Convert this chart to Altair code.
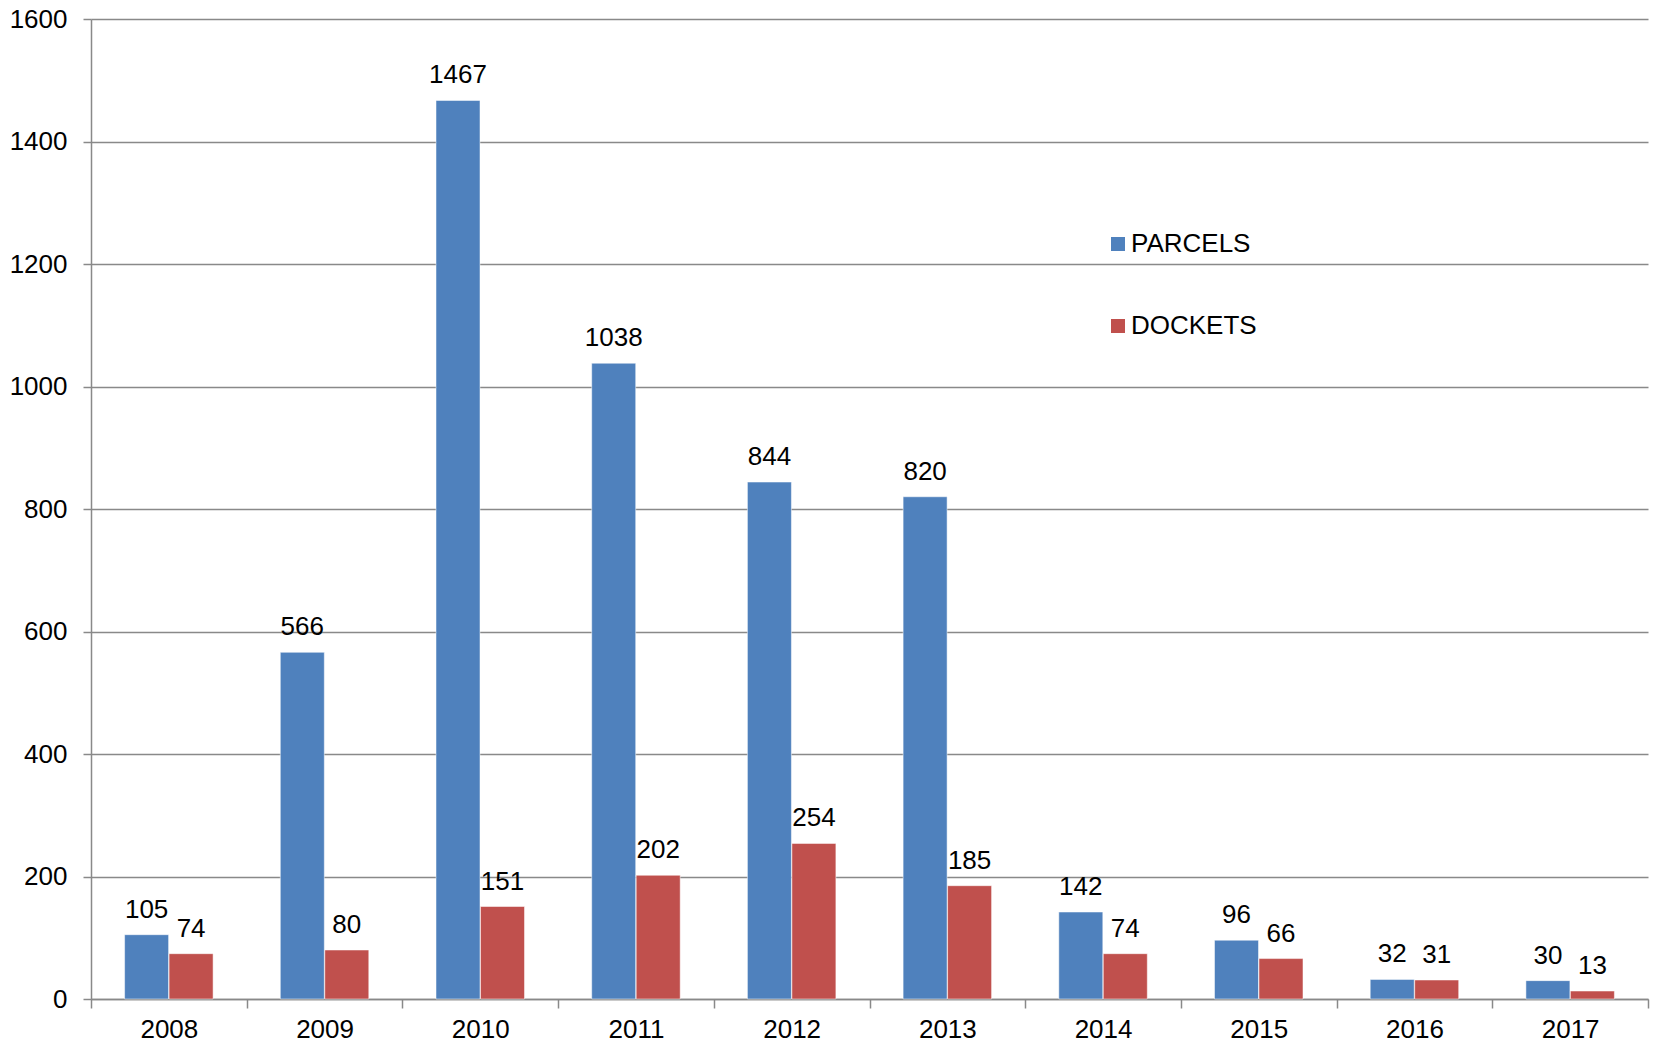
import altair as alt
import pandas as pd

years = ["2008", "2009", "2010", "2011", "2012", "2013", "2014", "2015", "2016", "2017"]
parcels = [105, 566, 1467, 1038, 844, 820, 142, 96, 32, 30]
dockets = [74, 80, 151, 202, 254, 185, 74, 66, 31, 13]
series = ["PARCELS", "DOCKETS"]
colors = ["#4F81BD", "#C0504D"]
y_ticks = [0, 200, 400, 600, 800, 1000, 1200, 1400, 1600]

rows = []
for i, y in enumerate(years):
    rows.append({"year": y, "series": "PARCELS", "value": parcels[i]})
    rows.append({"year": y, "series": "DOCKETS", "value": dockets[i]})
df = pd.DataFrame(rows)

FONT = "Liberation Sans"
GRID = "#898989"
FS = 26

x_enc = alt.X("year:N", sort=years, title=None,
              scale=alt.Scale(paddingInner=0, paddingOuter=0),
              axis=alt.Axis(labelAngle=0, labelFontSize=FS, labelFont=FONT,
                            labelColor="black", tickBand="extent",
                            tickSize=9, tickColor=GRID, tickWidth=1.5,
                            domainColor=GRID, domainWidth=1.5,
                            labelPadding=8, grid=False))
xo_enc = alt.XOffset("series:N", sort=series,
                     scale=alt.Scale(paddingOuter=0.75, paddingInner=0))
y_enc = alt.Y("value:Q", title=None,
              scale=alt.Scale(domain=[0, 1600], nice=False),
              axis=alt.Axis(values=y_ticks, format="d", labelFontSize=FS,
                            labelFont=FONT, labelColor="black", tickSize=8,
                            tickColor=GRID, tickWidth=1.5, domainColor=GRID,
                            domainWidth=1.5, gridColor=GRID, gridWidth=1.5,
                            labelPadding=16))
color_enc = alt.Color("series:N", sort=series,
                      scale=alt.Scale(domain=series, range=colors),
                      legend=alt.Legend(title=None, orient="none", legendX=1014,
                                        legendY=212, symbolType="square",
                                        symbolSize=196, symbolStrokeWidth=0,
                                        labelFontSize=FS, labelFont=FONT,
                                        labelColor="black", labelOffset=0,
                                        rowPadding=56))

bars = alt.Chart(df).mark_bar(size=44, stroke="white", strokeWidth=0.5).encode(
    x=x_enc, xOffset=xo_enc, y=y_enc, color=color_enc)

labels = alt.Chart(df).mark_text(fontSize=FS, font=FONT, color="black",
                                 baseline="alphabetic", dy=-17).encode(
    x=alt.X("year:N", sort=years), xOffset=xo_enc, y="value:Q",
    text="value:Q")

chart = alt.layer(bars, labels).properties(
    width=1557, height=980,
    autosize=alt.AutoSizeParams(type="none"),
    padding={"left": 91, "top": 19, "right": 8, "bottom": 48},
).configure_view(stroke=None)

chart.save("out.html", embed_options={"renderer": "svg", "actions": False})
